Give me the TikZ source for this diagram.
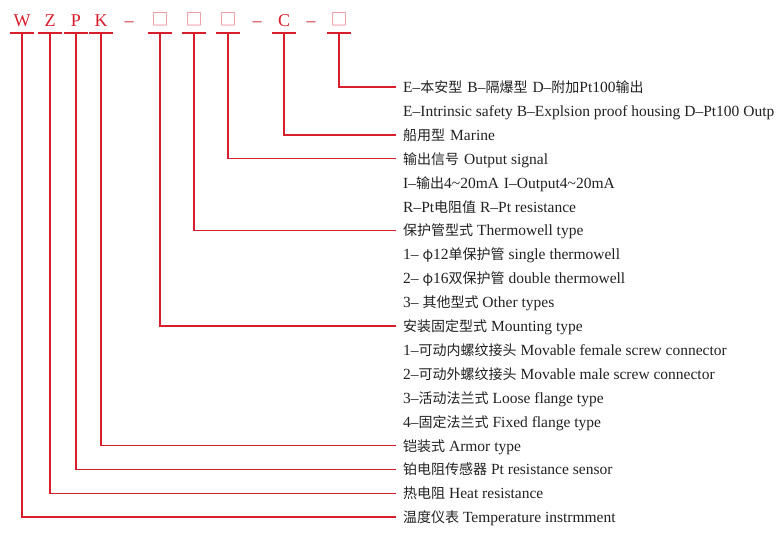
\documentclass[tikz,border=0pt]{standalone}
\usepackage{fontspec}
\setmainfont{Liberation Serif}
\newfontfamily\cjk{Noto Sans CJK SC}
\newcommand\zhtxt[1]{{\fontsize{14}{14}\selectfont\cjk #1}}
\definecolor{lred}{RGB}{215,30,45}
\definecolor{bred}{RGB}{230,100,112}
\definecolor{txtc}{RGB}{34,34,34}
\begin{document}
\begin{tikzpicture}[x=1pt,y=-1pt,
  code/.style={font=\fontsize{18}{18}\selectfont, text=lred, anchor=base,
    minimum width=23pt, inner xsep=0pt, inner ysep=6pt, text depth=0pt},
  boxc/.style={code, text=bred, font=\fontsize{16.5}{16.5}\selectfont\cjk, inner ysep=7pt},
  dashc/.style={font=\fontsize{18}{18}\selectfont, text=lred, anchor=base, inner sep=0pt},
  uline/.style={draw=lred, line width=1.5pt},
  conn/.style={draw=lred, line width=1.5pt},
  txt/.style={anchor=west, inner sep=0pt, text=txtc, font=\fontsize{15.5}{15.5}\selectfont,
    text height=13pt, text depth=2pt}]
\clip (0,0) rectangle (783,545);
\fill[white] (0,0) rectangle (783,545);
% code letters
\node[code] (W) at (22,27) {W};
\node[code] (Z) at (50,27) {Z};
\node[code] (P) at (76,27) {P};
\node[code] (K) at (101,27) {K};
\node[dashc] (d1) at (129,27) {–};
\node[boxc] (b1) at (160,26) {□};
\node[boxc] (b2) at (194,26) {□};
\node[boxc] (b3) at (228,26) {□};
\node[dashc] (d2) at (257,27) {–};
\node[code] (C) at (284,27) {C};
\node[dashc] (d3) at (311,27) {–};
\node[boxc] (b4) at (339,26) {□};
\foreach \n in {W,Z,P,K,C,b1,b2,b3,b4}
  \draw[uline] (\n.south west) -- (\n.south east);
% description rows
\def\rx{403}
\node[txt] (t1) at (\rx,87.0) {E–\zhtxt{本安型}\hspace{5pt}B–\zhtxt{隔爆型}\hspace{5pt}D–\zhtxt{附加}Pt100\zhtxt{输出}};
\node[txt] (t2) at (\rx,110.9) {E–Intrinsic safety B–Explsion proof housing D–Pt100 Outp};
\node[txt] (t3) at (\rx,134.8) {\zhtxt{船用型}\hspace{5pt}Marine};
\node[txt] (t4) at (\rx,158.7) {\zhtxt{输出信号}\hspace{5pt}Output signal};
\node[txt] (t5) at (\rx,182.6) {I–\zhtxt{输出}4\textasciitilde 20mA\hspace{5pt}I–Output4\textasciitilde 20mA};
\node[txt] (t6) at (\rx,206.5) {R–Pt\zhtxt{电阻值} R–Pt resistance};
\node[txt] (t7) at (\rx,230.4) {\zhtxt{保护管型式} Thermowell type};
\node[txt] (t8) at (\rx,254.3) {1– \zhtxt{φ}12\zhtxt{单保护管} single thermowell};
\node[txt] (t9) at (\rx,278.2) {2– \zhtxt{φ}16\zhtxt{双保护管} double thermowell};
\node[txt] (t10) at (\rx,302.1) {3– \zhtxt{其他型式} Other types};
\node[txt] (t11) at (\rx,326.0) {\zhtxt{安装固定型式} Mounting type};
\node[txt] (t12) at (\rx,349.9) {1–\zhtxt{可动内螺纹接头} Movable female screw connector};
\node[txt] (t13) at (\rx,373.8) {2–\zhtxt{可动外螺纹接头} Movable male screw connector};
\node[txt] (t14) at (\rx,397.7) {3–\zhtxt{活动法兰式} Loose flange type};
\node[txt] (t15) at (\rx,421.6) {4–\zhtxt{固定法兰式} Fixed flange type};
\node[txt] (t16) at (\rx,445.5) {\zhtxt{铠装式} Armor type};
\node[txt] (t17) at (\rx,469.4) {\zhtxt{铂电阻传感器} Pt resistance sensor};
\node[txt] (t18) at (\rx,493.3) {\zhtxt{热电阻} Heat resistance};
\node[txt] (t19) at (\rx,517.2) {\zhtxt{温度仪表} Temperature instrmment};
% connectors
\draw[conn] (b4.south) |- ([xshift=-7pt]t1.west);
\draw[conn] (C.south) |- ([xshift=-7pt]t3.west);
\draw[conn] (b3.south) |- ([xshift=-7pt]t4.west);
\draw[conn] (b2.south) |- ([xshift=-7pt]t7.west);
\draw[conn] (b1.south) |- ([xshift=-7pt]t11.west);
\draw[conn] (K.south) |- ([xshift=-7pt]t16.west);
\draw[conn] (P.south) |- ([xshift=-7pt]t17.west);
\draw[conn] (Z.south) |- ([xshift=-7pt]t18.west);
\draw[conn] (W.south) |- ([xshift=-7pt]t19.west);
\end{tikzpicture}
\end{document}
